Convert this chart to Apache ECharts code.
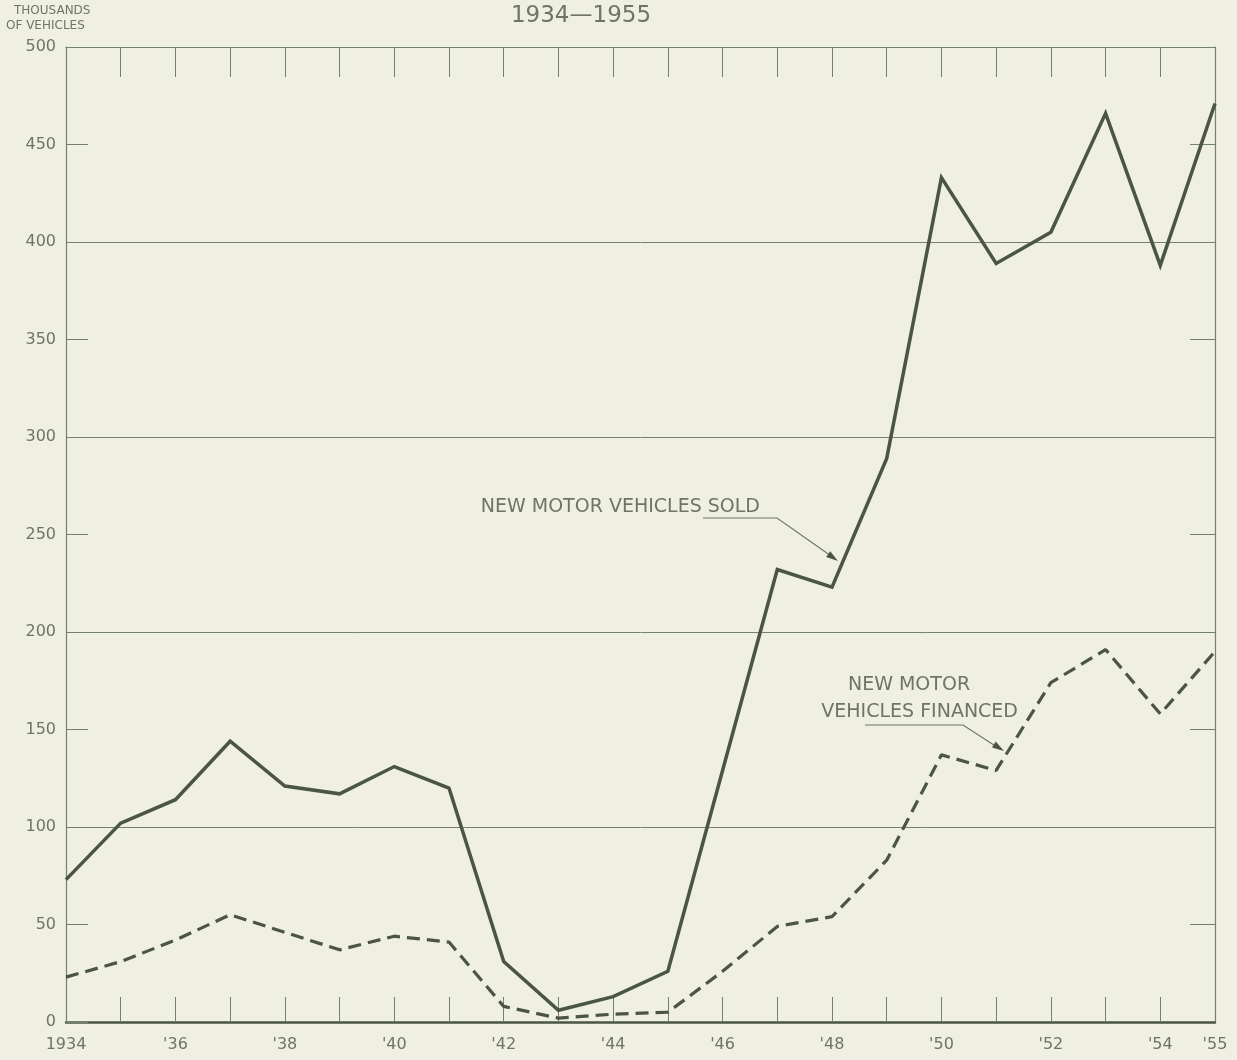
<!DOCTYPE html>
<html>
<head>
<meta charset="utf-8">
<script src="https://cdn.jsdelivr.net/npm/echarts@6/dist/echarts.min.js"></script>
<style>
html,body{margin:0;padding:0;background:#efefe2;}
#chart{width:1237px;height:1060px;}
</style>
</head>
<body>
<div id="chart"></div>
<script>
const years = [1934,1935,1936,1937,1938,1939,1940,1941,1942,1943,1944,1945,1946,1947,1948,1949,1950,1951,1952,1953,1954,1955];
const soldValues = [73,102,114,144,121,117,131,120,31,6,13,26,129,232,223,289,433,389,405,466,388,471];
const financedValues = [23,31,42,55,46,37,44,41,8,2,4,5,26,49,54,83,137,129,174,191,158,190];
const rightTicks = [50,150,250,350,450];
const xLabelYears = [1934,1936,1938,1940,1942,1944,1946,1948,1950,1952,1954,1955];

const ink = '#4a5546';
const axisInk = '#74826b';
const textInk = '#6f7566';
const font = 'DejaVu Sans';

const chart = echarts.init(document.getElementById('chart'), null, {renderer:'canvas'});

function arrowHead(x0,y0,x1,y1,len,half){
  const dx=x1-x0, dy=y1-y0, L=Math.hypot(dx,dy);
  const ux=dx/L, uy=dy/L;
  const bx=x1-ux*len, by=y1-uy*len;
  return [[x1,y1],[bx-uy*half,by+ux*half],[bx+uy*half,by-ux*half]];
}

const option = {
  backgroundColor:'#efefe2',
  animation:false,
  grid:{left:66,right:22,top:47,bottom:38,containLabel:false},
  xAxis:[{
    type:'value',position:'bottom',min:1934,max:1955,interval:1,
    axisLine:{show:true,onZero:false,lineStyle:{color:ink,width:2.5}},
    axisTick:{show:true,inside:true,length:25,lineStyle:{color:axisInk,width:1}},
    splitLine:{show:false},
    axisLabel:{
      margin:15,fontSize:16,color:textInk,fontFamily:font,
      formatter:function(v){
        if(xLabelYears.indexOf(v)<0) return '';
        return v===1934 ? '1934' : "'" + String(v).slice(2);
      }
    }
  },{
    type:'value',position:'top',min:1934,max:1955,interval:1,
    axisLine:{show:true,onZero:false,lineStyle:{color:axisInk,width:1.2}},
    axisTick:{show:true,inside:true,length:30,lineStyle:{color:axisInk,width:1}},
    splitLine:{show:false},
    axisLabel:{show:false}
  }],
  yAxis:[{
    type:'value',position:'left',min:0,max:500,interval:50,
    axisLine:{show:true,onZero:false,lineStyle:{color:axisInk,width:1.2}},
    axisTick:{show:true,inside:true,length:22,lineStyle:{color:axisInk,width:1}},
    splitLine:{show:false},
    axisLabel:{margin:10,fontSize:16,color:textInk,fontFamily:font}
  },{
    type:'value',position:'right',min:0,max:500,interval:50,
    axisLine:{show:true,onZero:false,lineStyle:{color:axisInk,width:1.2}},
    axisTick:{show:true,inside:true,length:25,lineStyle:{color:axisInk,width:1},
      customValues:rightTicks},
    splitLine:{show:false},
    axisLabel:{show:false}
  },{
    type:'value',position:'right',min:0,max:500,interval:100,
    axisLine:{show:false},
    axisTick:{show:false},
    splitLine:{show:true,lineStyle:{color:axisInk,width:1}},
    axisLabel:{show:false}
  }],
  series:[{
    name:'New motor vehicles sold',type:'line',xAxisIndex:0,yAxisIndex:0,
    data:years.map((y,i)=>[y,soldValues[i]]),
    symbol:'none',
    lineStyle:{color:ink,width:3.5,join:'miter'},
    z:5
  },{
    name:'New motor vehicles financed',type:'line',xAxisIndex:0,yAxisIndex:0,
    data:years.map((y,i)=>[y,financedValues[i]]),
    symbol:'none',
    lineStyle:{color:ink,width:3.2,type:[13,7]},
    z:5
  }],
  graphic:[
    {type:'text',left:14,top:5,style:{text:'THOUSANDS',fontSize:12,fill:textInk,fontFamily:font}},
    {type:'text',left:6,top:20,style:{text:'OF VEHICLES',fontSize:12,fill:textInk,fontFamily:font}},
    {type:'text',x:581,y:16,style:{text:'1934—1955',fontSize:23,fill:textInk,fontFamily:font,align:'center',verticalAlign:'middle'}},
    {type:'text',x:760,y:507,style:{text:'NEW MOTOR VEHICLES SOLD',fontSize:19,fill:textInk,fontFamily:font,align:'right',verticalAlign:'middle'}},
    {type:'polyline',shape:{points:[[703,518],[777,518],[834,558]]},style:{stroke:textInk,lineWidth:1.2,fill:null}},
    {type:'polygon',shape:{points:arrowHead(777,518,838,561,12,3.5)},style:{fill:ink}},
    {type:'text',x:909,y:685,style:{text:'NEW MOTOR',fontSize:19,fill:textInk,fontFamily:font,align:'center',verticalAlign:'middle'}},
    {type:'text',x:1018,y:712,style:{text:'VEHICLES FINANCED',fontSize:19,fill:textInk,fontFamily:font,align:'right',verticalAlign:'middle'}},
    {type:'polyline',shape:{points:[[865,725],[963,725],[1000,749]]},style:{stroke:textInk,lineWidth:1.2,fill:null}},
    {type:'polygon',shape:{points:arrowHead(963,725,1004,751,12,3.5)},style:{fill:ink}}
  ]
};
chart.setOption(option);
</script>
</body>
</html>
